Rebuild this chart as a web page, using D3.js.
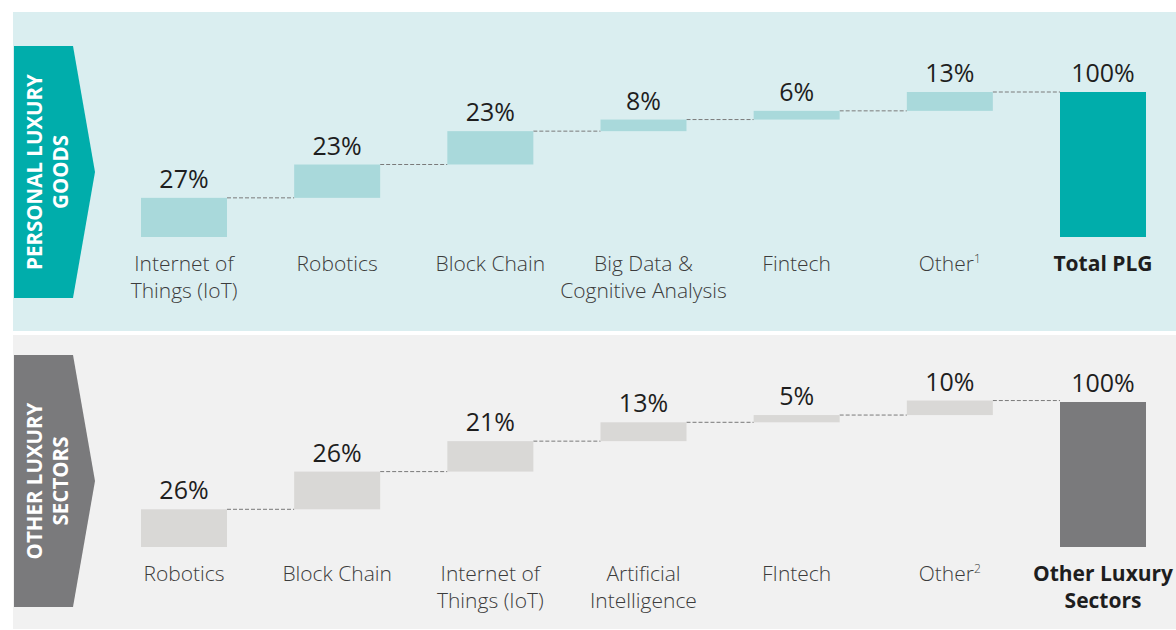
<!DOCTYPE html>
<html>
<head>
<meta charset="utf-8">
<script src="https://cdn.jsdelivr.net/npm/d3@7"></script>
<style>
  html, body { margin: 0; padding: 0; background: #fff; }
  svg { display: block; font-family: "Open Sans", "Noto Sans", sans-serif; }
</style>
</head>
<body>
<svg id="chart"></svg>
<script>
// top panel: personal luxury goods
const plgCategories = [['Internet of', 'Things (IoT)'], ['Robotics'], ['Block Chain'], ['Big Data &', 'Cognitive Analysis'], ['Fintech'], ['Other|1']];
const plgValues = [27, 23, 23, 8, 6, 13];
const plgTotalLabel = ['Total PLG'];
const plgTotal = 100;

// bottom panel: other luxury sectors
const olsCategories = [['Robotics'], ['Block Chain'], ['Internet of', 'Things (IoT)'], ['Artificial', 'Intelligence'], ['FIntech'], ['Other|2']];
const olsValues = [26, 26, 21, 13, 5, 10];
const olsTotalLabel = ['Other Luxury', 'Sectors'];
const olsTotal = 100;

const width = 1176, height = 630;

const svg = d3.select('#chart')
    .attr('width', width)
    .attr('height', height);

const panels = [
    {
        categories: plgCategories, values: plgValues, total: plgTotal, totalLabel: plgTotalLabel,
        title: ['PERSONAL LUXURY', 'GOODS'],
        top: 12, bottom: 331, bg: '#daeef0',
        arrowTop: 46, arrowBottom: 298, arrowColor: '#00adab',
        stepColor: '#a9d9db', totalColor: '#00adab',
        base: 237, peak: 92
    },
    {
        categories: olsCategories, values: olsValues, total: olsTotal, totalLabel: olsTotalLabel,
        title: ['OTHER LUXURY', 'SECTORS'],
        top: 335, bottom: 629, bg: '#f1f1f1',
        arrowTop: 355, arrowBottom: 607, arrowColor: '#7a7a7c',
        stepColor: '#d9d8d6', totalColor: '#7a7a7c',
        base: 547, peak: 402
    }
];

const barWidth = 86;

panels.forEach((p, pi) => {
    const g = svg.append('g').attr('class', 'panel-' + pi);

    g.append('rect')
        .attr('x', 13).attr('y', p.top)
        .attr('width', width - 13).attr('height', p.bottom - p.top)
        .attr('fill', p.bg);

    // arrow tab
    const midY = (p.arrowTop + p.arrowBottom) / 2;
    g.append('path')
        .attr('d', `M14,${p.arrowTop} L73,${p.arrowTop} L95,${midY} L73,${p.arrowBottom} L14,${p.arrowBottom} Z`)
        .attr('fill', p.arrowColor);

    const title = g.append('text')
        .attr('transform', `translate(48,${midY}) rotate(-90)`)
        .attr('text-anchor', 'middle')
        .attr('fill', '#fff')
        .attr('font-weight', 700)
        .attr('font-size', 20.5);
    p.title.forEach((t, i) => {
        title.append('tspan')
            .attr('x', 0)
            .attr('dy', i === 0 ? -6 : 26)
            .text(t);
    });

    const keys = p.categories.map((c, i) => 'c' + i).concat(['total']);
    const x = d3.scalePoint().domain(keys).range([184, 1103]);
    const y = d3.scaleLinear().domain([0, p.total]).range([p.base, p.peak]);

    let run = 0;
    const steps = p.values.map((v, i) => {
        const s = { key: keys[i], start: run, end: run + v, value: v, label: p.categories[i], total: false };
        run += v;
        return s;
    });
    steps.push({ key: 'total', start: 0, end: p.total, value: p.total, label: p.totalLabel, total: true });

    // connectors
    g.selectAll('line.conn')
        .data(steps.slice(0, -1))
        .join('line')
        .attr('class', 'conn')
        .attr('x1', d => x(d.key) + barWidth / 2)
        .attr('x2', (d, i) => x(steps[i + 1].key) - barWidth / 2)
        .attr('y1', d => y(d.end))
        .attr('y2', d => y(d.end))
        .attr('stroke', '#7a7a7a')
        .attr('stroke-width', 1)
        .attr('stroke-dasharray', '4,2');

    g.selectAll('rect.bar')
        .data(steps)
        .join('rect')
        .attr('class', 'bar')
        .attr('x', d => x(d.key) - barWidth / 2)
        .attr('width', barWidth)
        .attr('y', d => y(d.end))
        .attr('height', d => y(d.start) - y(d.end))
        .attr('fill', d => d.total ? p.totalColor : p.stepColor);

    g.selectAll('text.val')
        .data(steps)
        .join('text')
        .attr('class', 'val')
        .attr('x', d => x(d.key))
        .attr('y', d => y(d.end) - 10)
        .attr('text-anchor', 'middle')
        .attr('font-size', 25)
        .attr('fill', '#1e1e1e')
        .text(d => d.value + '%');

    const labels = g.selectAll('text.cat')
        .data(steps)
        .join('text')
        .attr('class', 'cat')
        .attr('x', d => x(d.key))
        .attr('y', p.base + 34)
        .attr('text-anchor', 'middle')
        .attr('font-size', 21)
        .attr('font-weight', d => d.total ? 700 : 300)
        .attr('fill', d => d.total ? '#1e1e1e' : '#3c3c3c');

    labels.each(function(d) {
        const t = d3.select(this);
        d.label.forEach((line, i) => {
            const parts = line.split('|');
            t.append('tspan')
                .attr('x', x(d.key))
                .attr('dy', i === 0 ? 0 : 27)
                .text(parts[0]);
            if (parts[1]) {
                t.append('tspan')
                    .attr('font-size', 12)
                    .attr('dy', -8)
                    .text(parts[1]);
            }
        });
    });
});
</script>
</body>
</html>
